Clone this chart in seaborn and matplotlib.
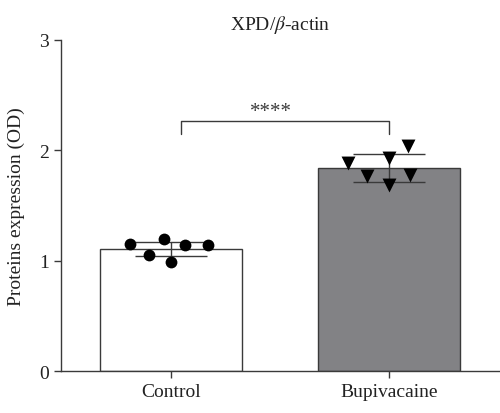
import numpy as np
import pandas as pd
import seaborn as sns
import matplotlib.pyplot as plt

# Datos
groups = ['Control', 'Bupivacaine']
control_vals = [1.141, 1.201, 1.156, 1.141, 0.991, 1.051]
bupi_vals = [1.930, 2.042, 1.885, 1.780, 1.764, 1.689]
bar_means = [1.105, 1.84]
bar_sd = [0.063, 0.128]
yticks = [0, 1, 2, 3]

df = pd.DataFrame({
    'group': ['Control'] * len(control_vals) + ['Bupivacaine'] * len(bupi_vals),
    'value': control_vals + bupi_vals,
})

sns.set_style('ticks')
plt.rcParams['font.family'] = ['Liberation Serif', 'DejaVu Serif']
plt.rcParams['mathtext.fontset'] = 'stix'

line_color = '#3a3a3a'
fig = plt.figure(figsize=(5, 4.14), dpi=100)
ax = fig.add_axes([0.122, 0.101, 0.878, 0.80])

sns.barplot(x=groups, y=bar_means, hue=groups, palette=['white', '#818286'],
            width=0.65, edgecolor=line_color, linewidth=1.0, legend=False, ax=ax, zorder=1)
ax.errorbar(range(len(groups)), bar_means, yerr=bar_sd, fmt='none',
            ecolor=line_color, elinewidth=1.0, capsize=26, capthick=1.0, zorder=3)

# borde transparente para separar los puntos del enjambre
sns.swarmplot(data=df[df.group == 'Control'], x='group', y='value', order=groups,
              color='black', marker='o', size=8.5, linewidth=7, edgecolor=(0, 0, 0, 0),
              ax=ax, zorder=4)
sns.swarmplot(data=df[df.group == 'Bupivacaine'], x='group', y='value', order=groups,
              color='black', marker='v', size=10, linewidth=6, edgecolor=(0, 0, 0, 0),
              ax=ax, zorder=4)

# Barra de significancia
ax.plot([0.046, 0.046, 1.0, 1.0], [2.15, 2.27, 2.27, 2.15], color=line_color, lw=1.0)
ax.text(0.46, 2.35, '****', ha='center', va='center', fontsize=15, color=line_color)

ax.set_xlim(-0.503, 1.51)
ax.set_ylim(0, 3)
ax.set_yticks(yticks)
ax.set_xlabel('')
ax.set_ylabel('Proteins expression (OD)', fontsize=14, color='#222222', labelpad=10)
ax.set_title(r'XPD/$\beta$-actin', fontsize=14, color='#222222', pad=8)
ax.tick_params(axis='both', length=5, width=1.0, color=line_color, labelsize=14,
               labelcolor='#222222')
for s in ['left', 'bottom']:
    ax.spines[s].set_color(line_color)
    ax.spines[s].set_linewidth(1.0)
sns.despine(ax=ax)

plt.savefig('out.png', dpi=100)
plt.close()
